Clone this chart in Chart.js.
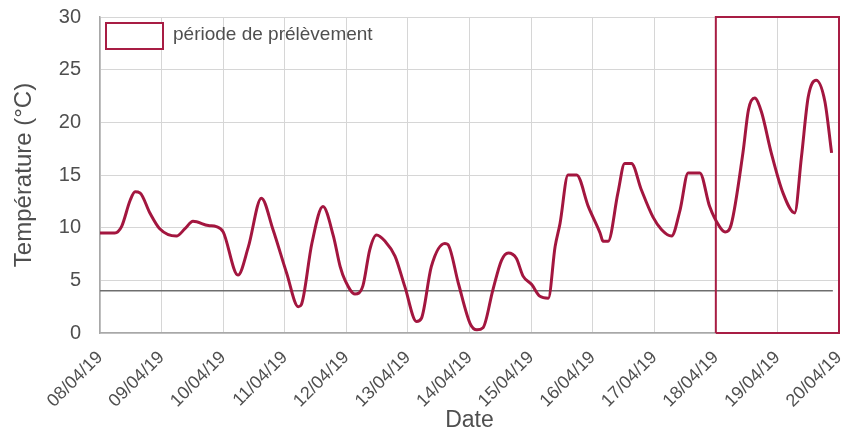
<!DOCTYPE html>
<html>
<head>
<meta charset="utf-8">
<script src="https://cdn.jsdelivr.net/npm/chart.js@4.4.0/dist/chart.umd.min.js"></script>
<style>
  html, body { margin: 0; padding: 0; background: #ffffff; }
  #wrap { width: 843px; height: 434px; }
</style>
</head>
<body>
<div id="wrap"><canvas id="tempChart" width="843" height="434"></canvas></div>
<script>
/////////////////////////////// DATA ///////////////////////////////

// Day labels on the x axis (one per tick, day 0 = 08/04/19)
const dateLabels = ["08/04/19", "09/04/19", "10/04/19", "11/04/19", "12/04/19", "13/04/19", "14/04/19",
                    "15/04/19", "16/04/19", "17/04/19", "18/04/19", "19/04/19", "20/04/19"];

// Measurement times, in days since 08/04/19 00:00
const dayOffsets = [0, 0.24, 0.35, 0.49, 0.57, 0.65, 0.81, 0.97, 1.24, 1.38, 1.51, 1.76, 1.89, 2.0,
                    2.24, 2.41, 2.62, 2.81, 3.03, 3.22, 3.27, 3.44, 3.62, 3.79, 3.9, 3.98, 4.14, 4.27,
                    4.38, 4.49, 4.63, 4.79, 4.95, 5.14, 5.22, 5.38, 5.6, 5.65, 5.82, 6.01, 6.12, 6.22,
                    6.38, 6.52, 6.63, 6.76, 6.87, 7.01, 7.14, 7.28, 7.39, 7.47, 7.6, 7.74, 7.93, 8.12,
                    8.17, 8.25, 8.41, 8.52, 8.63, 8.79, 8.98, 9.12, 9.28, 9.42, 9.55, 9.74, 9.9, 10.06,
                    10.15, 10.25, 10.44, 10.53, 10.63, 10.74, 10.9, 11.09, 11.28, 11.39, 11.5, 11.63,
                    11.77, 11.88];

// Temperature (°C) at each measurement time
const temperatures = [9.5, 9.5, 10.1, 12.6, 13.4, 13.3, 11.4, 9.9, 9.2, 9.9, 10.6, 10.2, 10.1, 9.6,
                      5.5, 8.2, 12.8, 9.8, 5.7, 2.5, 2.7, 8.5, 12.0, 9.2, 6.3, 5.0, 3.7, 4.5,
                      7.9, 9.3, 8.7, 7.3, 4.4, 1.1, 1.4, 6.3, 8.5, 8.4, 4.7, 0.9, 0.3, 0.5,
                      4.1, 6.9, 7.6, 7.1, 5.4, 4.6, 3.5, 3.3, 8.2, 10.4, 15.0, 15.0, 12.0, 9.5,
                      8.7, 8.7, 13.3, 16.1, 16.1, 13.6, 11.0, 9.8, 9.2, 11.7, 15.2, 15.2, 12.0, 10.1,
                      9.6, 10.3, 17.1, 21.2, 22.3, 21.0, 17.1, 13.3, 11.4, 16.7, 22.4, 24.0,
                      22.0, 17.1];

// Reference threshold line (°C) and its extent in days
const thresholdTemp = 4;
const thresholdDays = [0, 11.9];

// Sampling period box: days 10 to 12, full temperature range
const samplingDays = [10, 12];
const samplingTemps = [0, 30];

const yTicks = [0, 5, 10, 15, 20, 25, 30];

/////////////////////////////// COLORS ///////////////////////////////
const c_line = "#a3163f";
const c_box = "#a81d44";
const c_threshold = "#6e6e6e";
const c_grid = "#d6d6d6";
const c_text = "#4f4f4f";
const f_family = "'Liberation Sans', Arial, sans-serif";

/////////////////////////////// CHART ///////////////////////////////

const tempPoints = dayOffsets.map((d, i) => ({ x: d, y: temperatures[i] }));

const thresholdPoints = thresholdDays.map(d => ({ x: d, y: thresholdTemp }));

const boxPoints = [
    { x: samplingDays[0], y: samplingTemps[0] },
    { x: samplingDays[0], y: samplingTemps[1] },
    { x: samplingDays[1], y: samplingTemps[1] },
    { x: samplingDays[1], y: samplingTemps[0] },
    { x: samplingDays[0], y: samplingTemps[0] },
];

// Legend box drawn inside the plot, top-left
const samplingLegend = {
    id: "samplingLegend",
    afterDraw(chart) {
        const ctx = chart.ctx;
        const area = chart.chartArea;
        const bx = area.left + 6, by = area.top + 6;
        ctx.save();
        ctx.fillStyle = "#ffffff";
        ctx.fillRect(bx, by, 57, 26);
        ctx.strokeStyle = c_box;
        ctx.lineWidth = 2;
        ctx.strokeRect(bx, by, 57, 26);
        ctx.fillStyle = c_text;
        ctx.font = "19px " + f_family;
        ctx.textBaseline = "middle";
        ctx.fillText("période de prélèvement", bx + 67, by + 12);
        ctx.restore();
    }
};

const ctx = document.getElementById("tempChart").getContext("2d");
const tempChart = new Chart(ctx, {
    type: "scatter",
    data: {
        datasets: [
            {
                label: "Température",
                data: tempPoints,
                showLine: true,
                borderColor: c_line,
                borderWidth: 3,
                pointRadius: 0,
                cubicInterpolationMode: "monotone",
                order: 1,
            },
            {
                label: "Seuil",
                data: thresholdPoints,
                showLine: true,
                borderColor: c_threshold,
                borderWidth: 1.5,
                pointRadius: 0,
                order: 3,
            },
            {
                label: "période de prélèvement",
                data: boxPoints,
                showLine: true,
                borderColor: c_box,
                borderWidth: 2,
                pointRadius: 0,
                clip: false,
                order: 2,
            },
        ],
    },
    options: {
        responsive: false,
        animation: false,
        layout: { padding: { top: 17, right: 4, left: 0, bottom: 0 } },
        plugins: {
            legend: { display: false },
            tooltip: { enabled: false },
        },
        scales: {
            x: {
                type: "linear",
                min: 0,
                max: 12,
                afterFit: scale => {
                    scale.height = 101;
                    scale.paddingLeft = 0;
                    scale.paddingRight = 0;
                },
                afterBuildTicks: scale => {
                    scale.ticks = dateLabels.map((_, i) => ({ value: i }));
                },
                ticks: {
                    autoSkip: false,
                    maxRotation: 45,
                    minRotation: 45,
                    padding: 14,
                    color: c_text,
                    font: { family: f_family, size: 18 },
                    callback: v => dateLabels[v],
                },
                grid: { color: c_grid, drawTicks: false },
                border: { color: "#a8a8a8", width: 1.5 },
                title: {
                    display: true,
                    text: "Date",
                    color: c_text,
                    padding: { top: 0, bottom: 0 },
                    font: { family: f_family, size: 23 },
                },
            },
            y: {
                min: 0,
                max: 30,
                afterFit: scale => {
                    scale.width = 100;
                    scale.paddingTop = 0;
                    scale.paddingBottom = 0;
                },
                afterBuildTicks: scale => {
                    scale.ticks = yTicks.map(v => ({ value: v }));
                },
                ticks: {
                    padding: 19,
                    color: c_text,
                    font: { family: f_family, size: 20 },
                },
                grid: { color: c_grid, drawTicks: false },
                border: { color: "#a8a8a8", width: 1.5 },
                title: {
                    display: true,
                    text: "Température (°C)",
                    color: c_text,
                    padding: { top: 10, bottom: 4 },
                    font: { family: f_family, size: 24 },
                },
            },
        },
    },
    plugins: [samplingLegend],
});
</script>
</body>
</html>
